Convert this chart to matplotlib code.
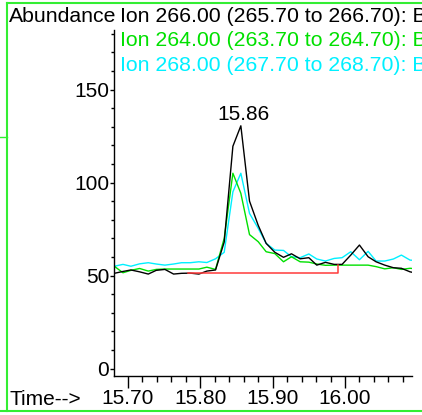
import matplotlib
matplotlib.use("Agg")
import matplotlib.pyplot as plt
from matplotlib.lines import Line2D
from matplotlib.ticker import MultipleLocator, FormatStrFormatter

plt.rcParams["font.family"] = ["Liberation Sans", "DejaVu Sans"]

# scan times (min)
times = [15.681, 15.693, 15.704, 15.716, 15.728, 15.739, 15.751, 15.763,
         15.774, 15.786, 15.798, 15.809, 15.821, 15.833, 15.845, 15.856,
         15.868, 15.880, 15.891, 15.903, 15.915, 15.926, 15.938, 15.950,
         15.961, 15.973, 15.985, 15.996, 16.008, 16.020, 16.032, 16.043,
         16.055, 16.067, 16.078, 16.090, 16.102]

ion_266 = [51.2, 52.2, 53.0, 52.0, 50.8, 52.8, 53.3, 50.8, 51.2, 51.3,
           50.8, 52.4, 53.0, 68.0, 119.5, 130.5, 90.0, 77.0, 67.3, 62.5,
           59.8, 61.7, 59.0, 59.6, 55.6, 57.1, 56.0, 56.0, 61.0, 66.4,
           60.1, 57.4, 55.6, 54.2, 53.9, 52.0, 51.0]

ion_264 = [55.0, 51.5, 52.8, 53.8, 52.4, 53.3, 53.5, 53.5, 53.5, 53.5,
           53.5, 54.5, 53.3, 70.0, 105.0, 94.2, 72.0, 68.2, 62.8, 61.8,
           57.4, 60.1, 57.4, 57.2, 56.2, 55.5, 55.6, 55.6, 55.6, 55.6,
           55.6, 54.8, 53.6, 54.2, 53.3, 53.9, 53.5]

ion_268 = [55.0, 56.0, 55.0, 56.3, 56.9, 56.2, 55.6, 56.2, 56.9, 56.9,
           57.4, 57.0, 59.0, 62.5, 95.0, 105.0, 83.4, 75.4, 67.3, 63.7,
           63.5, 60.1, 59.6, 61.6, 58.9, 57.8, 59.2, 59.6, 62.8, 58.5,
           63.0, 57.8, 57.8, 58.9, 61.0, 58.3, 58.0]

# integration baseline of the 266 peak
base_t = [15.783, 15.991, 15.991]
base_y = [51.5, 51.5, 55.6]

peak_rt = 15.86
peak_label = "15.86"

# the window cuts these off at the right edge, as in the original screen
ion_labels = [
    "Ion 266.00 (265.70 to 266.70): BLANK01.D",
    "Ion 264.00 (263.70 to 264.70): BLANK01.D",
    "Ion 268.00 (267.70 to 268.70): BLANK01.D",
]

BLACK = "#000000"
GREEN = "#00e000"
CYAN = "#00f0ff"
RED = "#ff3b3b"
FRAME = "#33ee33"

W, H = 422, 415
fig = plt.figure(figsize=(W / 100, H / 100), dpi=100)


def fx(px):
    return px / W


def fy(py):
    return 1 - py / H


ax = fig.add_axes([fx(114), fy(376), fx(412.3) - fx(114), fy(30) - fy(376)])

ax.plot(times, ion_268, color=CYAN, lw=1.0)
ax.plot(times, ion_264, color=GREEN, lw=1.0)
ax.plot(times, ion_266, color=BLACK, lw=1.0)
ax.plot(base_t, base_y, color=RED, lw=1.1)

ax.text(peak_rt, 133.6, peak_label, ha="center", va="baseline", fontsize=15)

ax.set_xlim(15.6806, 16.0931)
ax.set_ylim(-4.0, 182)

ax.xaxis.set_major_locator(MultipleLocator(0.1))
ax.xaxis.set_minor_locator(MultipleLocator(0.02))
ax.xaxis.set_major_formatter(FormatStrFormatter("%.2f"))
ax.yaxis.set_major_locator(MultipleLocator(50))
ax.yaxis.set_minor_locator(MultipleLocator(10))

for side in ("top", "right"):
    ax.spines[side].set_visible(False)
for side in ("left", "bottom"):
    ax.spines[side].set_linewidth(1.0)

ax.tick_params(axis="x", which="major", direction="out", length=8.6, width=1.0,
               labelsize=15, pad=1)
ax.tick_params(axis="x", which="minor", direction="out", length=4.1, width=1.0)
ax.tick_params(axis="y", which="major", direction="out", length=3.0, width=1.0,
               labelsize=15, pad=0.5)
ax.tick_params(axis="y", which="minor", direction="out", length=2.0, width=1.0)

# header texts
fig.text(fx(9), fy(21.7), "Abundance", fontsize=15.3, va="baseline", ha="left")
for label, color, base in zip(ion_labels, [BLACK, GREEN, CYAN], [21.7, 46.4, 70.8]):
    fig.text(fx(120), fy(base), label, fontsize=15.3, color=color,
             va="baseline", ha="left")
fig.text(fx(10), fy(405), "Time-->", fontsize=15, va="baseline", ha="left")

# green window frame
fig.add_artist(Line2D([fx(7), fx(7)], [fy(3), fy(411)], color=FRAME, lw=1.5))
fig.add_artist(Line2D([fx(7), 1], [fy(3), fy(3)], color=FRAME, lw=1.5))
fig.add_artist(Line2D([0, 1], [fy(411), fy(411)], color=FRAME, lw=1.5))
fig.add_artist(Line2D([0, fx(7)], [fy(137), fy(137)], color=FRAME, lw=1.0))

fig.savefig("out.png", dpi=100, facecolor="white")
